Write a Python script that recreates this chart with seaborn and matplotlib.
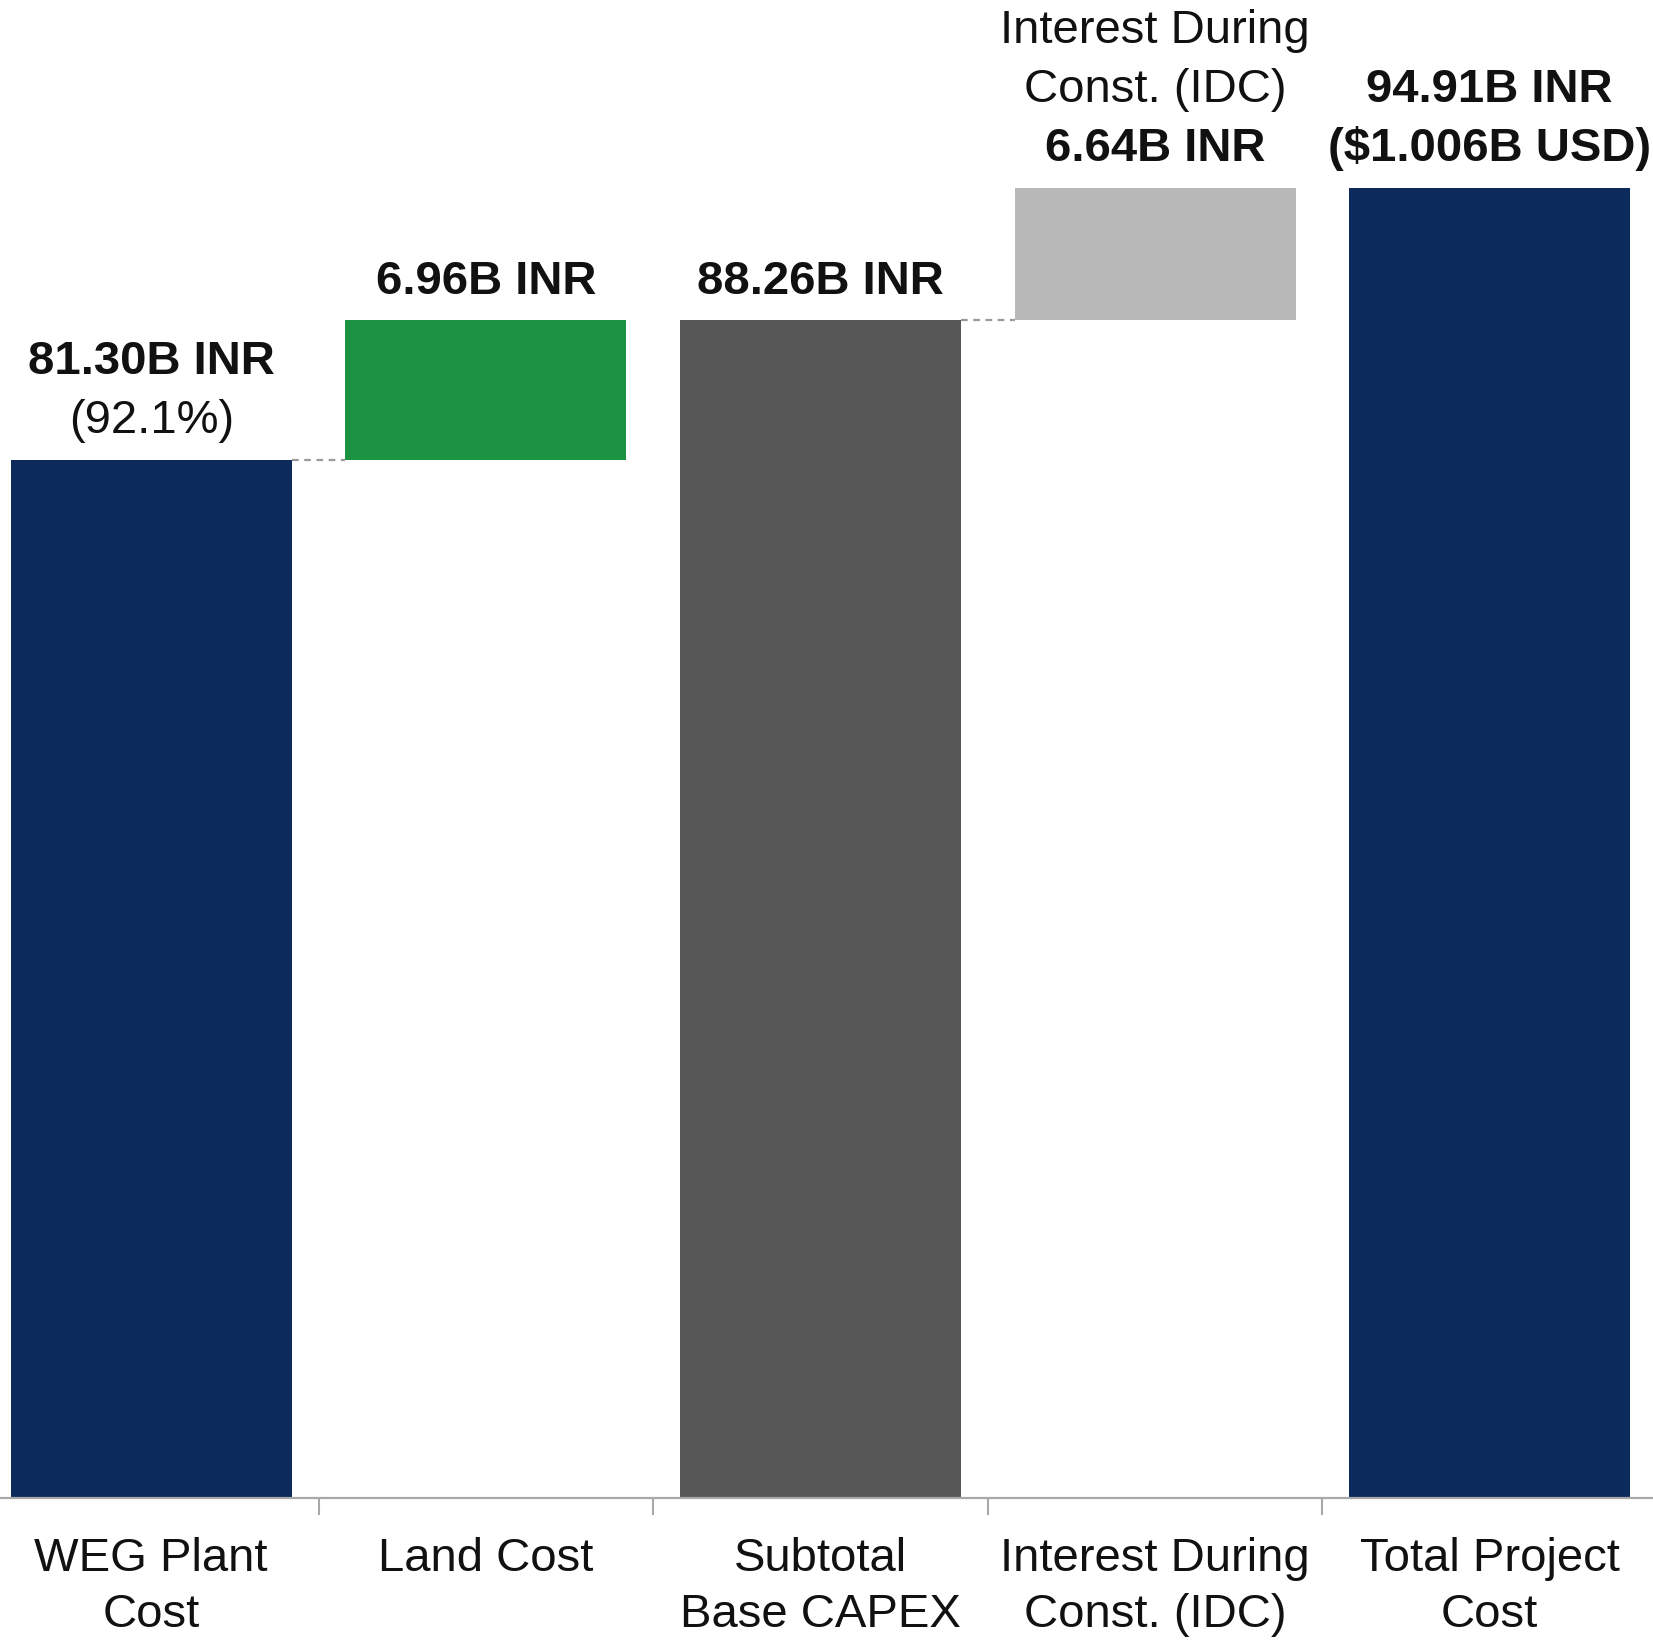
import matplotlib
matplotlib.use("Agg")
import matplotlib.pyplot as plt
import seaborn as sns
import pandas as pd
import numpy as np
from matplotlib.ticker import FixedLocator

# waterfall data (billions INR)
categories = ["WEG Plant\nCost", "Land Cost", "Subtotal\nBase CAPEX",
              "Interest During\nConst. (IDC)", "Total Project\nCost"]
values = [81.30, 6.96, 88.26, 6.64, 94.91]
bases = [0, 81.30, 0, 88.26, 0]
colors = ["#0c2a5c", "#1b9343", "#575757", "#b9b9b9", "#0c2a5c"]

# labels above each bar, listed top to bottom: (text, weight)
bar_labels = [
    [("81.30B INR", "bold"), ("(92.1%)", "normal")],
    [("6.96B INR", "bold")],
    [("88.26B INR", "bold")],
    [("Interest During", "normal"), ("Const. (IDC)", "normal"), ("6.64B INR", "bold")],
    [("94.91B INR", "bold"), ("($1.006B USD)", "bold")],
]

sns.set_theme(style="white")
plt.rcParams["font.family"] = ["Liberation Sans", "DejaVu Sans"]

df = pd.DataFrame({"cat": categories, "value": values})

fig = plt.figure(figsize=(16.53, 16.43), dpi=100)
ax = fig.add_axes([0.0, 0.088, 1.0, 0.912])

bar_w = 0.84
sns.barplot(data=df, x="cat", y="value", hue="cat", palette=colors,
            width=bar_w, legend=False, ax=ax, saturation=1)

# shift floating bars up to their base
for p, b, v in zip(ax.patches, bases, values):
    p.set_y(b)
    p.set_height(v)
    p.set_edgecolor("none")

# dashed connectors for the step bars
for i, b in enumerate(bases):
    if b > 0:
        ax.plot([i - 1 + bar_w / 2, i - bar_w / 2], [b, b], color="#9a9a9a",
                lw=1.6, ls=(0, (3, 2.5)), zorder=1)

# text above bars
for i, (b, v, lines) in enumerate(zip(bases, values, bar_labels)):
    top = b + v
    for k, (txt, wt) in enumerate(reversed(lines)):
        ax.annotate(txt, xy=(i, top), xytext=(0, 19 + 42.5 * k),
                    textcoords="offset points", ha="center", va="baseline",
                    fontsize=34, fontweight=wt, color="#111111")

ax.set_xlim(-0.452, 4.488)
ax.set_ylim(29.3, 104.3)
ax.set_xlabel("")
ax.set_ylabel("")
ax.set_yticks([])

for s in ["top", "left", "right"]:
    ax.spines[s].set_visible(False)
ax.spines["bottom"].set_color("#a8a8a8")
ax.spines["bottom"].set_linewidth(1.6)

ax.xaxis.set_minor_locator(FixedLocator([0.5, 1.5, 2.5, 3.5]))
ax.tick_params(axis="x", which="major", length=0, pad=28, labelsize=34,
               labelcolor="#111111")
ax.tick_params(axis="x", which="minor", bottom=True, length=12, width=1.5,
               color="#a8a8a8", direction="out")
for lab in ax.get_xticklabels():
    lab.set_linespacing(1.35)

fig.savefig("out.png", dpi=100, facecolor="white")
